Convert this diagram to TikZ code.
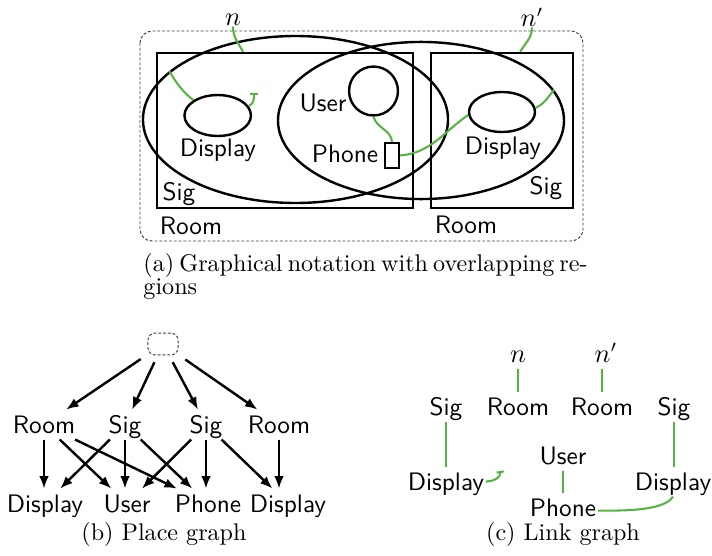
\documentclass[tikz,border=0pt]{standalone}
\usepackage{amsmath}
\usepackage{tikz}
\usetikzlibrary{calc,arrows.meta,shapes.geometric}
\definecolor{linkgreen}{RGB}{84,180,64}
\newcommand{\labelfont}{\fontsize{10.5}{12.5}\sffamily}
\newcommand{\tightcap}{\fontsize{10}{12}\selectfont\spaceskip=2.1pt plus 1pt minus 0.5pt\relax}

\tikzset{
  region/.style={draw,line width=1pt,inner sep=0pt},
  lbl/.style={font=\labelfont,inner sep=0pt,anchor=base},
  pg/.style={font=\labelfont,inner sep=0.5pt,text height=9pt,text depth=2pt,anchor=base},
  link/.style={draw=linkgreen,line width=0.85pt},
  child/.style={-{Latex[length=5.2pt,width=4pt]},line width=1pt},
  captext/.style={font=\fontsize{10}{12}\selectfont,inner sep=0pt,anchor=base},
  dotbox/.style={draw=black!75,line width=0.4pt,dash pattern=on 1.2pt off 0.8pt},
}

\begin{document}
\begin{tikzpicture}[x=0.415pt,y=-0.415pt]
\useasboundingbox (0,0) rectangle (712,555);

% (a) regions
\draw[dotbox,rounded corners=5pt] (140,31) rectangle (583,241);
\node[region,rectangle,minimum width=106.2pt,minimum height=64.3pt] (roomL) at (285,130.5) {};
\node[region,rectangle,minimum width=58.9pt,minimum height=64.3pt] (roomR) at (502,130.5) {};
\node[region,ellipse,minimum width=126.6pt,minimum height=69.3pt] (sigL) at (295.5,119.5) {};
\node[region,ellipse,minimum width=118.7pt,minimum height=65.2pt] (sigR) at (421,120.5) {};
\node[region,ellipse,minimum width=27.6pt,minimum height=17pt] (dispL) at (217.7,115.5) {};
\node[region,ellipse,minimum width=27.4pt,minimum height=16.6pt] (dispR) at (502,112) {};
\node[region,circle,minimum size=20.3pt] (user) at (373.5,91) {};
\node[region,rectangle,minimum width=5.8pt,minimum height=10.4pt] (phone) at (392,155.5) {};

\node[lbl] (dispLtxt) at (218,157) {Display};
\node[lbl] (dispRtxt) at (503,154) {Display};
\node[lbl] (usertxt) at (323,111) {User};
\node[lbl] (phonetxt) at (345,162) {Phone};
\node[lbl] (sigLtxt) at (179,200) {Sig};
\node[lbl] (sigRtxt) at (546,194) {Sig};
\node[lbl] (roomLtxt) at (191,234) {Room};
\node[lbl] (roomRtxt) at (466,233) {Room};
\node[lbl] (nL) at (233,26) {$n$};
\node[lbl] (nR) at (532,27) {$n'$};

% (a) links
\coordinate (idleL) at (254,93);
\draw[link] (nL.south) to[out=-90,in=120] (roomL.118.5);
\draw[link] (nR.south) to[out=-90,in=60] (roomR.77.6);
\draw[link] (dispL.148) to[out=140,in=-60] (sigL.159);
\draw[link,-{Bar[width=3pt]}] (dispL.17) to[out=20,in=-90] (idleL);
\draw[link] (user.south) to[out=-75,in=95] (phone.north);
\draw[link] (phone.east) to[out=5,in=-145] (dispR.185);
\draw[link] (dispR.7) to[out=25,in=-130] (sigR.13);

\node[captext,anchor=base west,align=left,font=\tightcap]
  (capA) at (143,294) {(a) Graphical notation with overlapping re-\\[-2.6pt]gions};

% (b) place graph
\node[dotbox,rounded corners=3pt,minimum width=12.5pt,minimum height=9.1pt,outer sep=3pt] (root) at (163,344) {};
\node[pg] (room1) at (44,433) {Room};
\node[pg] (sig1) at (125,433) {Sig};
\node[pg] (sig2) at (206,433) {Sig};
\node[pg] (room2) at (279,433) {Room};
\node[pg] (disp1) at (45,512) {Display};
\node[pg] (user1) at (127,512) {User};
\node[pg] (phone1) at (208,512) {Phone};
\node[pg] (disp2) at (288,512) {Display};

\foreach \c in {room1,sig1,sig2,room2}
  \draw[child] (root) -- (\c);
% straight down
\foreach \a/\b in {room1/disp1,sig1/user1,sig2/phone1,room2/disp2}
  \draw[child] (\a.south) -- (\a.south |- \b.north);
% slanted
\foreach \a/\b in {room1/user1,room1/phone1,sig1/disp1,sig1/phone1,
                   sig2/user1,sig2/disp2}
  \draw[child] (\a) -- (\b);

\node[captext] (capB) at (164,540) {(b) Place graph};

% (c) link graph
\node[pg] (nC) at (518,362) {$n$};
\node[pg] (nC2) at (606,362) {$n'$};
\node[pg] (sigc1) at (446,415) {Sig};
\node[pg] (roomc1) at (518,415) {Room};
\node[pg] (roomc2) at (602,415) {Room};
\node[pg] (sigc2) at (674,415) {Sig};
\node[pg] (userc) at (563,464) {User};
\node[pg] (dispc1) at (446,490) {Display};
\node[pg] (dispc2) at (673,490) {Display};
\node[pg] (phonec) at (563,516) {Phone};

\coordinate (idleR) at (500,471);
\draw[link] (nC) -- (roomc1);
\draw[link] (roomc2.north) -- (roomc2.north |- nC2.south);
\draw[link] (sigc1) -- (dispc1);
\draw[link] (sigc2.south) -- (sigc2.south |- dispc2.north);
\draw[link] (userc) -- (phonec);
\draw[link] ($(phonec.east)+(0,3)$) to[out=0,in=-120,looseness=0.6] (dispc2.south);
\draw[link,-{Bar[width=3pt]}] (dispc1.east) to[out=0,in=-80] (idleR);

\node[captext] (capC) at (563,540) {(c) Link graph};
\end{tikzpicture}
\end{document}
